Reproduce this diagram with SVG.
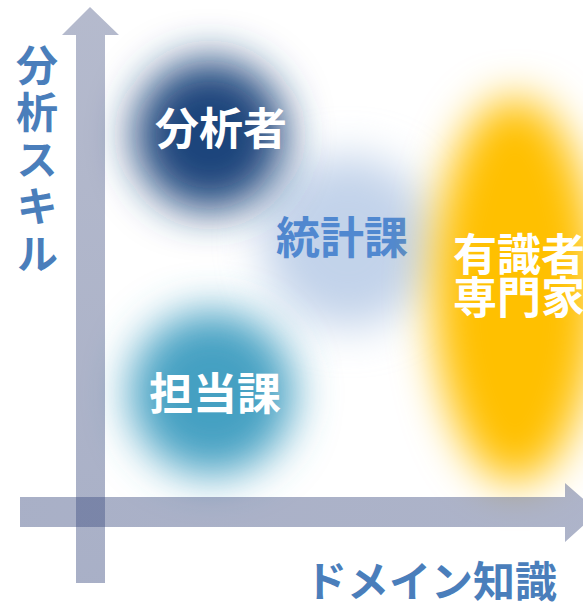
<svg xmlns="http://www.w3.org/2000/svg" width="583" height="605" viewBox="0 0 583 605">
<defs>
<filter id="blur" x="-50%" y="-50%" width="200%" height="200%"><feGaussianBlur stdDeviation="22"/></filter>
<linearGradient id="vgrad" x1="0" y1="0" x2="0" y2="1"><stop offset="0" stop-color="#5a6690"/><stop offset="1" stop-color="#3f4f82"/></linearGradient>
<linearGradient id="hgrad" x1="0" y1="0" x2="1" y2="0"><stop offset="0" stop-color="#3f4f82"/><stop offset="1" stop-color="#4a5888"/></linearGradient>
</defs>
<style>
.lbl{font-family:"Noto Sans CJK JP","Noto Sans CJK SC",sans-serif;font-weight:bold;font-size:44px;text-anchor:middle}
.w{fill:#ffffff}
.axis{font-family:"Noto Sans CJK JP","Noto Sans CJK SC",sans-serif;font-weight:bold;font-size:42px;fill:#4a7ebb}
.arrow{opacity:0.45}
</style>
<rect width="583" height="605" fill="#ffffff"/>
<g id="node-statistics">
<circle cx="348" cy="242" r="86" fill="#c2d3ea" filter="url(#blur)"/>
<text class="lbl" x="342" y="254" fill="#5088d0">統計課</text>
</g>
<g id="node-analyst">
<circle cx="210" cy="135" r="76" fill="#1f447c" filter="url(#blur)"/>
<text class="lbl w" x="221" y="145">分析者</text>
</g>
<g id="node-tantou">
<circle cx="212" cy="393" r="82" fill="#45a0c2" filter="url(#blur)"/>
<text class="lbl w" x="215" y="410">担当課</text>
</g>
<g id="node-expert">
<ellipse cx="515" cy="290" rx="82" ry="192" fill="#ffc000" filter="url(#blur)"/>
<text class="lbl w" font-size="43"><tspan x="519" y="271">有識者</tspan><tspan x="519" y="314">専門家</tspan></text>
</g>
<g id="connectors">
<path class="arrow" fill="url(#vgrad)" d="M76,583 L76,35 L62,35 L90,7 L119,35 L105,35 L105,583 Z"/>
<path class="arrow" fill="url(#hgrad)" d="M20,497 L565,497 L565,483 L598,512 L565,542 L565,527 L20,527 Z"/>
</g>
<g id="axis-labels">
<text class="axis" x="37" y="44" writing-mode="vertical-rl" letter-spacing="5">分析スキル</text>
<text class="axis" x="431" y="597" font-size="44" text-anchor="middle">ドメイン知識</text>
</g>
</svg>
